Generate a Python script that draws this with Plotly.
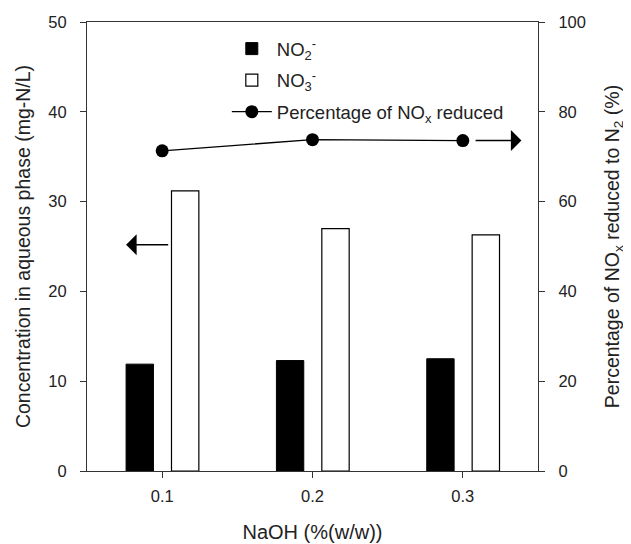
import plotly.graph_objects as go

# Data
naoh = [0.1, 0.2, 0.3]
no2 = [11.9, 12.3, 12.5]
no3 = [31.2, 27.0, 26.3]
pct_reduced = [71.3, 73.8, 73.6]
x_ticks = [0.1, 0.2, 0.3]
x_tick_labels = ["0.1", "0.2", "0.3"]
y_left_ticks = [0, 10, 20, 30, 40, 50]
y_right_ticks = [0, 20, 40, 60, 80, 100]

FONT = "Liberation Sans, Arial, sans-serif"
AX = "#333333"

fig = go.Figure()
fig.add_trace(go.Bar(
    x=naoh, y=no2, name="NO<sub>2</sub><sup>-</sup>", legendgroup="a",
    width=0.0182, offset=-0.024,
    marker=dict(color="black", line=dict(color="black", width=1)),
))
fig.add_trace(go.Bar(
    x=naoh, y=no3, name="NO<sub>3</sub><sup>-</sup>", legendgroup="b",
    width=0.0182, offset=0.0062,
    marker=dict(color="white", line=dict(color="black", width=1.2)),
))
fig.add_trace(go.Scatter(
    x=naoh, y=pct_reduced, yaxis="y2", name="Percentage of NO<sub>x</sub> reduced",
    legendgroup="c", mode="lines+markers",
    line=dict(color="black", width=1.3),
    marker=dict(color="black", size=13),
))

axis_common = dict(ticks="outside", ticklen=6, tickcolor=AX, tickwidth=1,
                   showline=True, linecolor=AX, linewidth=1.2,
                   showgrid=False, zeroline=False, automargin=False,
                   tickfont=dict(size=16.5, color="#222"))

fig.update_layout(
    width=622, height=535,
    margin=dict(l=79, r=92, t=14, b=72),
    paper_bgcolor="white", plot_bgcolor="white",
    barmode="overlay",
    font=dict(family=FONT, size=16, color="#222"),
    showlegend=True,
    legend=dict(x=0.31, y=0.982, xanchor="left", yanchor="top",
                bgcolor="rgba(0,0,0,0)", font=dict(size=18.5),
                itemwidth=40, tracegroupgap=4.5),
    xaxis=dict(range=[0.05, 0.35], tickvals=x_ticks, ticktext=x_tick_labels,
               mirror=True, ticklabelstandoff=4,
               title=dict(text="NaOH (%(w/w))", font=dict(size=20), standoff=22),
               **axis_common),
    yaxis=dict(range=[0, 50], tickvals=y_left_ticks, mirror=True, ticklabelstandoff=10,
               title=dict(text="Concentration in aqueous phase (mg-N/L)", font=dict(size=19.5), standoff=12),
               **axis_common),
    yaxis2=dict(range=[0, 100], tickvals=y_right_ticks, overlaying="y", side="right",
                ticklabelstandoff=10,
                title=dict(text="Percentage of NO<sub>x</sub> reduced to N<sub>2</sub> (%)", font=dict(size=19.5), standoff=20),
                **axis_common),
)

# Axis-indicator arrows
fig.add_annotation(x=0.076, y=25.2, ax=0.105, ay=25.2, xref="x", yref="y", axref="x", ayref="y",
                   showarrow=True, arrowhead=1, arrowsize=2.2, arrowwidth=1.6, arrowcolor="black", text="")
fig.add_annotation(x=0.339, y=73.6, ax=0.3075, ay=73.6, xref="x", yref="y2", axref="x", ayref="y2",
                   showarrow=True, arrowhead=1, arrowsize=2.2, arrowwidth=1.6, arrowcolor="black", text="")

fig.write_html("out.html")
